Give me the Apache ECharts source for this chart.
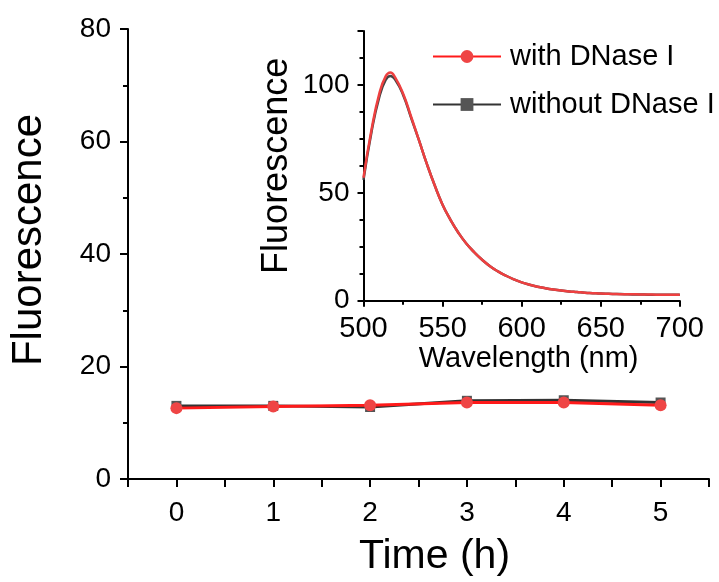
<!DOCTYPE html>
<html>
<head>
<meta charset="utf-8">
<script src="https://cdn.jsdelivr.net/npm/echarts@6/dist/echarts.min.js"></script>
<style>
  html, body { margin: 0; padding: 0; background: #fff; }
  #chart { width: 719px; height: 582px; }
</style>
</head>
<body>
<div id="chart"></div>
<script>
// Stability over time (main plot)
const hours = [0, 1, 2, 3, 4, 5];
const withDNase = [12.6, 12.9, 13.1, 13.6, 13.6, 13.1];
const withoutDNase = [13.0, 13.0, 12.8, 13.9, 14.0, 13.6];

// Emission spectra (inset)
const wavelength = [500, 505, 510, 514, 517, 520, 525, 530, 535, 540, 545, 550, 555, 560, 565, 570, 575, 580, 585, 590, 595, 600, 605, 610, 615, 620, 625, 630, 635, 640, 645, 650, 655, 660, 665, 670, 675, 680, 685, 690, 695, 700];
const specWith    = [57, 79, 96, 104, 105.8, 103.5, 96, 85.5, 74.5, 63.5, 53.5, 44.5, 37.5, 31.5, 26.5, 22.5, 19, 16, 13.6, 11.6, 9.9, 8.5, 7.4, 6.5, 5.8, 5.2, 4.7, 4.3, 4.0, 3.7, 3.5, 3.3, 3.2, 3.1, 3.0, 3.0, 2.9, 2.9, 2.8, 2.8, 2.8, 2.8];
const specWithout = [56, 78, 94.5, 102.3, 104.2, 102.5, 95.5, 85, 74.5, 63.5, 53.5, 44.5, 37.5, 31.5, 26.5, 22.5, 19, 16, 13.6, 11.6, 9.9, 8.5, 7.4, 6.5, 5.8, 5.2, 4.7, 4.3, 4.0, 3.7, 3.5, 3.3, 3.2, 3.1, 3.0, 2.9, 2.9, 2.8, 2.8, 2.7, 2.7, 2.7];

const FONT = "'Liberation Sans', Arial, sans-serif";
const RED_LINE = '#ff1a1a';
const RED_DOT = '#ef4545';
const BLACK_LINE = '#333333';
const BLACK_DOT = '#555555';

const pair = (xs, ys) => xs.map((x, i) => [x, ys[i]]);

const axisBase = {
  axisLine: { onZero: false, lineStyle: { color: '#000', width: 2 } },
  splitLine: { show: false },
  axisLabel: { color: '#000', fontFamily: FONT },
  nameTextStyle: { color: '#000', fontFamily: FONT }
};

const chart = echarts.init(document.getElementById('chart'));
chart.setOption({
  animation: false,
  backgroundColor: '#fff',
  grid: [
    { left: 126, top: 29, right: 10, bottom: 99.3, containLabel: false },
    { left: 363.5, top: 31, width: 316.3, height: 269.7, containLabel: false }
  ],
  xAxis: [
    Object.assign({}, axisBase, {
      gridIndex: 0, type: 'value', min: -0.5, max: 5.5, interval: 0.5,
      axisTick: { length: 8, lineStyle: { color: '#000', width: 2 } },
      axisLabel: Object.assign({}, axisBase.axisLabel, {
        fontSize: 28, margin: 20,
        formatter: v => (Math.abs(v - Math.round(v)) < 1e-6 && v >= 0) ? String(Math.round(v)) : ''
      }),
      name: 'Time (h)', nameLocation: 'middle', nameGap: 57,
      nameTextStyle: { color: '#000', fontFamily: FONT, fontSize: 41, padding: [0, 0, 0, 32] }
    }),
    Object.assign({}, axisBase, {
      gridIndex: 1, type: 'value', min: 500, max: 700, interval: 50,
      axisTick: { length: 6, lineStyle: { color: '#000', width: 2 } },
      minorTick: { show: true, splitNumber: 2, length: 4, lineStyle: { color: '#000', width: 2 } },
      axisLabel: Object.assign({}, axisBase.axisLabel, { fontSize: 29, margin: 14 }),
      name: 'Wavelength (nm)', nameLocation: 'middle', nameGap: 44,
      nameTextStyle: { color: '#000', fontFamily: FONT, fontSize: 29, padding: [0, 0, 0, 14] }
    })
  ],
  yAxis: [
    Object.assign({}, axisBase, {
      gridIndex: 0, type: 'value', min: 0, max: 80, interval: 20,
      axisTick: { length: 8, lineStyle: { color: '#000', width: 2 } },
      minorTick: { show: true, splitNumber: 2, length: 5, lineStyle: { color: '#000', width: 2 } },
      axisLabel: Object.assign({}, axisBase.axisLabel, { fontSize: 28, margin: 17 }),
      name: 'Fluorescence', nameLocation: 'middle', nameGap: 78,
      nameTextStyle: { color: '#000', fontFamily: FONT, fontSize: 42, padding: [0, 0, 0, 28] }
    }),
    Object.assign({}, axisBase, {
      gridIndex: 1, type: 'value', min: 0, max: 125, interval: 50,
      axisTick: { length: 6, lineStyle: { color: '#000', width: 2 } },
      minorTick: { show: true, splitNumber: 4, length: 4, lineStyle: { color: '#000', width: 2 } },
      axisLabel: Object.assign({}, axisBase.axisLabel, { fontSize: 28, margin: 14, showMaxLabel: false }),
      name: 'Fluorescence', nameLocation: 'middle', nameGap: 68,
      nameTextStyle: { color: '#000', fontFamily: FONT, fontSize: 36 }
    })
  ],
  legend: {
    orient: 'vertical',
    left: 427, top: 37,
    itemWidth: 68, itemHeight: 16, itemGap: 19,
    textStyle: { color: '#000', fontFamily: FONT, fontSize: 29, padding: [0, 0, 0, 4] },
    data: ['with DNase I', 'without DNase I']
  },
  series: [
    {
      name: 'without DNase I', type: 'line', xAxisIndex: 0, yAxisIndex: 0,
      data: pair(hours, withoutDNase),
      symbol: 'rect', symbolSize: 10,
      lineStyle: { color: BLACK_LINE, width: 3 },
      itemStyle: { color: BLACK_DOT },
      z: 2
    },
    {
      name: 'with DNase I', type: 'line', xAxisIndex: 0, yAxisIndex: 0,
      data: pair(hours, withDNase),
      symbol: 'circle', symbolSize: 12,
      lineStyle: { color: RED_LINE, width: 3 },
      itemStyle: { color: RED_DOT },
      z: 3
    },
    {
      name: 'without DNase I', type: 'line', xAxisIndex: 1, yAxisIndex: 1,
      data: pair(wavelength, specWithout),
      smooth: true, showSymbol: false,
      lineStyle: { color: '#444444', width: 2.5 },
      itemStyle: { color: BLACK_DOT },
      z: 2
    },
    {
      name: 'with DNase I', type: 'line', xAxisIndex: 1, yAxisIndex: 1,
      data: pair(wavelength, specWith),
      smooth: true, showSymbol: false,
      lineStyle: { color: '#ee4040', width: 2.5 },
      itemStyle: { color: RED_DOT },
      z: 3
    }
  ]
});
</script>
</body>
</html>
